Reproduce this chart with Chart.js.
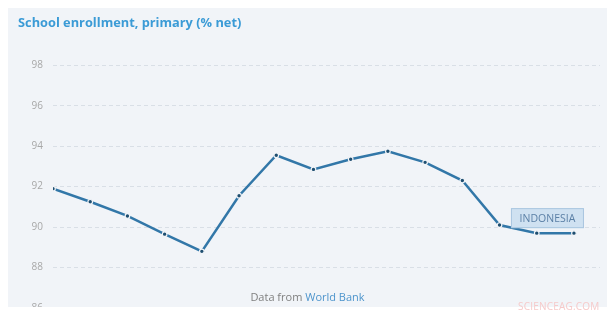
<!DOCTYPE html>
<html>
<head>
<meta charset="utf-8">
<script src="https://cdn.jsdelivr.net/npm/chart.js@4"></script>
<style>
  body { margin: 0; background: #fff; width: 615px; height: 315px; overflow: hidden; position: relative; font-family: "Open Sans", sans-serif; }
  .panel { position: absolute; left: 8px; top: 8px; width: 599px; height: 299px; background: #f1f4f8; overflow: hidden; }
  .wrap { position: absolute; left: -8px; top: -8px; width: 615px; height: 340px; }
  .title { position: absolute; left: 10px; top: 5px; font-size: 12.8px; font-weight: bold; color: #3b9bd6; }
  .footer { position: absolute; left: 0; width: 599px; top: 281px; text-align: center; font-size: 11px; color: #808080; }
  .footer span { color: #4d94cc; }
  .mark { position: absolute; left: 518px; top: 299px; font-size: 10px; color: #f6caca; letter-spacing: 0.2px; }
</style>
</head>
<body>
<div class="panel">
  <div class="wrap"><canvas id="enrollChart" width="615" height="340"></canvas></div>
  <div class="title">School enrollment, primary (% net)</div>
  <div class="footer">Data from <span>World Bank</span></div>
</div>
<div class="mark">SCIENCEAG.COM</div>
<script>
// data
var years = [2000, 2001, 2002, 2003, 2004, 2005, 2006, 2007, 2008, 2009, 2010, 2011, 2012, 2013, 2014];
var enrollment = [91.9, 91.25, 90.55, 89.65, 88.8, 91.55, 93.55, 92.85, 93.35, 93.75, 93.2, 92.3, 90.1, 89.7, 89.7];
var yTicks = [86, 88, 90, 92, 94, 96, 98];
var countryLabel = "INDONESIA";

var bg = '#f1f4f8';

// label box next to the last point
var countryTag = {
    id: 'countryTag',
    afterDatasetsDraw: function(chart) {
        var meta = chart.getDatasetMeta(0);
        var pt = meta.data[meta.data.length - 1];
        var ctx = chart.ctx;
        var x1 = pt.x - 63, x2 = pt.x + 10, y1 = pt.y - 25, y2 = pt.y - 5;
        ctx.save();
        ctx.fillStyle = '#cfe1f1';
        ctx.strokeStyle = '#a9c6e0';
        ctx.lineWidth = 1;
        ctx.fillRect(x1, y1, x2 - x1, y2 - y1);
        ctx.strokeRect(x1 + 0.5, y1 + 0.5, x2 - x1 - 1, y2 - y1 - 1);
        ctx.fillStyle = '#5a7fa5';
        ctx.font = '10.5px "Open Sans"';
        ctx.textAlign = 'center';
        ctx.textBaseline = 'middle';
        ctx.fillText(countryLabel, (x1 + x2) / 2, (y1 + y2) / 2 + 0.5);
        ctx.restore();
    }
};

new Chart(document.getElementById('enrollChart'), {
    type: 'line',
    data: {
        datasets: [{
            data: years.map(function(yr, i) { return { x: yr, y: enrollment[i] }; }),
            borderColor: '#3277a8',
            borderWidth: 2.5,
            pointRadius: 2.3,
            pointBackgroundColor: '#1e4e70',
            pointBorderColor: bg,
            pointBorderWidth: 1.2,
            tension: 0,
            fill: false
        }]
    },
    plugins: [countryTag],
    options: {
        responsive: false,
        animation: false,
        layout: { padding: { top: 45, right: 15, bottom: 32, left: 0 } },
        plugins: {
            legend: { display: false },
            tooltip: { enabled: false }
        },
        scales: {
            x: {
                type: 'linear',
                min: years[0],
                max: years[years.length - 1] + 0.7,
                display: false
            },
            y: {
                min: 86,
                max: 99,
                afterFit: function(scale) { scale.width = 53; },
                afterBuildTicks: function(scale) {
                    scale.ticks = yTicks.map(function(v) { return { value: v }; });
                },
                grid: {
                    color: '#d9dfe6',
                    lineWidth: 1,
                    drawTicks: false
                },
                border: { display: false, dash: [4, 3] },
                ticks: {
                    padding: 10,
                    color: '#a8a8a8',
                    font: { size: 10, family: 'Open Sans' }
                }
            }
        }
    }
});
</script>
</body>
</html>
